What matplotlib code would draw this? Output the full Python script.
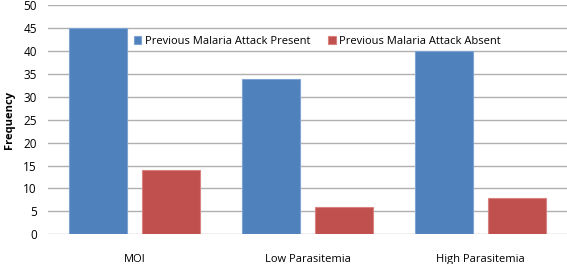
import numpy as np
import matplotlib
matplotlib.use('Agg')
from matplotlib import pyplot as plt

categories = ['MOI', 'Low Parasitemia', 'High Parasitemia']
present = [45, 34, 40]
absent = [14, 6, 8]
series_names = ['Previous Malaria Attack Present', 'Previous Malaria Attack Absent']
yticks = [0, 5, 10, 15, 20, 25, 30, 35, 40, 45, 50]

plt.rcParams['font.family'] = ['Open Sans', 'DejaVu Sans']

fig = plt.figure(figsize=(5.67, 2.64), dpi=100)
ax = fig.add_axes([0.0845, 0.1125, 0.9155, 0.8675])

x = np.arange(len(categories))
w = 0.333
ax.bar(x - 0.21, present, w, color='#4F81BD', edgecolor='#7FA3D3', linewidth=0.8,
       label=series_names[0], zorder=3)
ax.bar(x + 0.21, absent, w, color='#C0504D', edgecolor='#D88380', linewidth=0.8,
       label=series_names[1], zorder=3)

ax.set_xlim(-0.5, len(categories) - 0.5)
ax.set_ylim(0, 50)
ax.set_yticks(yticks)
ax.set_xticks(x)
ax.set_xticklabels(categories, fontsize=8)
ax.tick_params(axis='y', labelsize=8.5, length=0, pad=8)
ax.tick_params(axis='x', length=0, pad=14)
ax.yaxis.grid(True, color='#b0b0b0', linewidth=1, zorder=0)
for s in ['top', 'right', 'left', 'bottom']:
    ax.spines[s].set_visible(False)

ax.set_ylabel('Frequency', fontsize=8, fontweight='bold', labelpad=6)

ax.legend(loc='center', bbox_to_anchor=(0.519, 0.844), ncol=2, frameon=False,
          fontsize=8, handlelength=0.7, handleheight=0.7, handletextpad=0.3,
          columnspacing=1.6, borderpad=0)

fig.savefig('out.png', dpi=100)
